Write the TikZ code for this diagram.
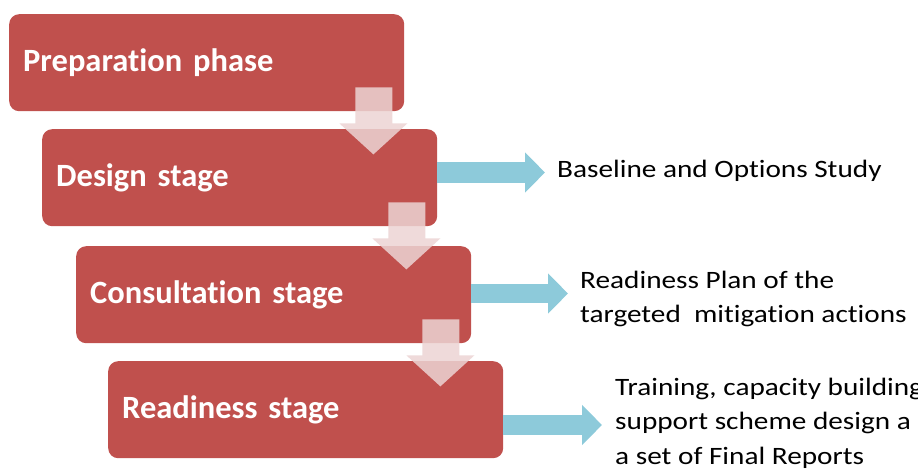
\documentclass[tikz,border=0pt]{standalone}
\usepackage{fontspec}
\setmainfont[Ligatures=NoCommon]{Carlito}
\usetikzlibrary{arrows.meta}
\definecolor{stagered}{RGB}{192,80,77}
\definecolor{downpink}{RGB}{236,212,212}
\definecolor{outblue}{RGB}{141,202,218}
\tikzset{
  stagebox/.style={fill=stagered, rounded corners=10pt, anchor=north west,
    minimum width=395pt, minimum height=97pt, text width=367pt, inner xsep=14pt,
    align=left, text=white, font=\fontsize{32.5}{38}\selectfont\bfseries},
  outtext/.style={anchor=base west, align=left, inner sep=0pt, text=black,
    xscale=1.17, transform shape, font=\fontsize{25}{34.5}\selectfont},
  bluearrow/.style={draw=outblue, line width=#1, -{Triangle[length=20pt,width=39pt]}},
  downarrow/.style={fill=downpink, fill opacity=0.85}
}
\begin{document}
\begin{tikzpicture}[x=1pt,y=-1pt]
\useasboundingbox (0,0) rectangle (918,470);
\node[stagebox] (b1) at (9,14) {Preparation phase};
\node[stagebox] (b2) at (42,129) {Design stage};
\node[stagebox] (b3) at (76,246) {Consultation stage};
\node[stagebox] (b4) at (108,361) {Readiness stage};
% down arrows
\foreach \b in {b1,b2,b3}{
  \fill[downarrow] ([xshift=-49pt,yshift=24pt]\b.south east) -- ([xshift=-12pt,yshift=24pt]\b.south east)
    -- ([xshift=-12pt,yshift=-12pt]\b.south east) -- ([xshift=3pt,yshift=-12pt]\b.south east)
    -- ([xshift=-31pt,yshift=-43pt]\b.south east) -- ([xshift=-65pt,yshift=-12pt]\b.south east)
    -- ([xshift=-49pt,yshift=-12pt]\b.south east) -- cycle;
}
% output texts
\node[outtext] (o1) at (557,178) {Baseline and Options Study};
\node[outtext] (o2) at (580,323) {Readiness Plan of the\\targeted\ \ mitigation actions};
\node[outtext] (o3) at (615,464) {Training, capacity building\\support scheme design a\\a set of Final Reports};
% blue arrows
\coordinate (t1) at (545,172.5);
\coordinate (t2) at (568,293.5);
\coordinate (t3) at (602,425);
\draw[bluearrow=21pt] (b2.east |- t1) -- (t1);
\draw[bluearrow=19pt] (b3.east |- t2) -- (t2);
\draw[bluearrow=20pt] (b4.east |- t3) -- (t3);
\end{tikzpicture}
\end{document}
